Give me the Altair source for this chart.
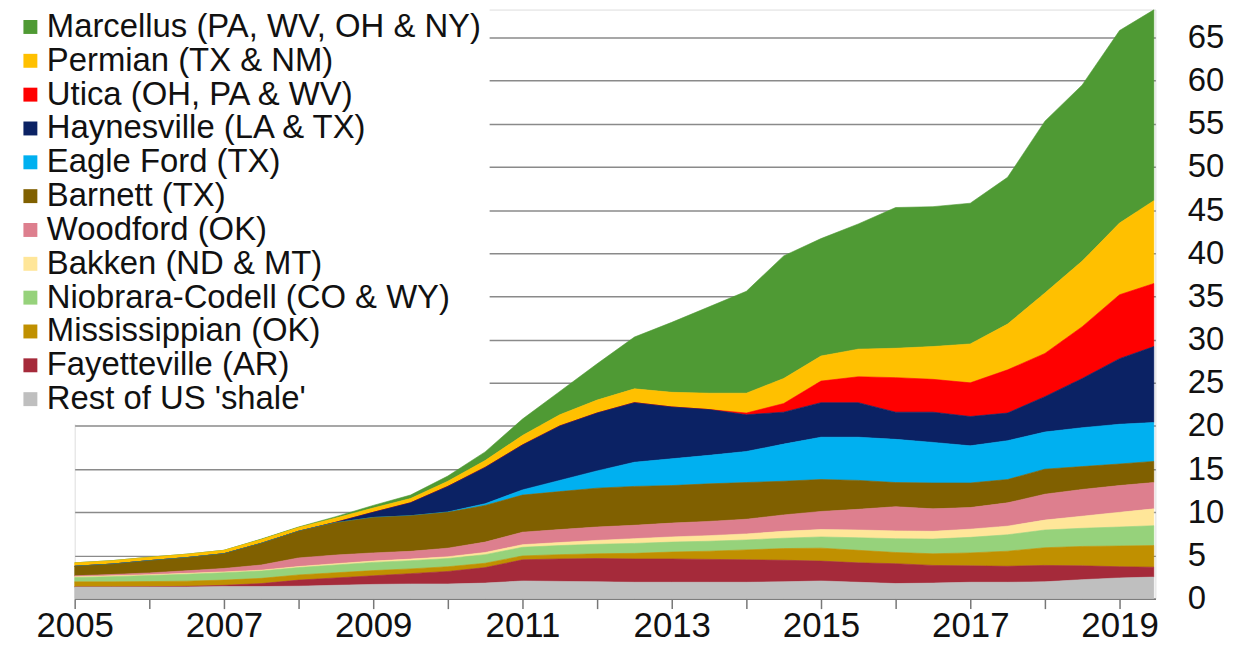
import altair as alt
import pandas as pd

# half-year sample points (decimal years), last point ~June 2019
years = [2005.0, 2005.5, 2006.0, 2006.5, 2007.0, 2007.5, 2008.0, 2008.5, 2009.0, 2009.5,
         2010.0, 2010.5, 2011.0, 2011.5, 2012.0, 2012.5, 2013.0, 2013.5, 2014.0, 2014.5,
         2015.0, 2015.5, 2016.0, 2016.5, 2017.0, 2017.5, 2018.0, 2018.5, 2019.0, 2019.46]

regions = ["Marcellus (PA, WV, OH & NY)", "Permian (TX & NM)", "Utica (OH, PA & WV)",
           "Haynesville (LA & TX)", "Eagle Ford (TX)", "Barnett (TX)", "Woodford (OK)",
           "Bakken (ND & MT)", "Niobrara-Codell (CO & WY)", "Mississippian (OK)",
           "Fayetteville (AR)", "Rest of US 'shale'"]

colors = ["#4F9A34", "#FFC000", "#FF0000", "#0B2264", "#00B0F0", "#806000", "#DD7F8E",
          "#FFE699", "#96D27B", "#C09000", "#A52A3A", "#BFBFBF"]

marcellus = [0, 0, 0, 0, 0, 0.05, 0.05, 0.15, 0.3, 0.4, 0.6, 1.0, 1.9, 2.7, 4.2, 6.0, 8.1, 10.0,
             11.8, 14.2, 13.6, 14.5, 16.3, 16.2, 16.3, 17.0, 19.9, 20.4, 22.3, 22.1]
permian = [0.4, 0.4, 0.4, 0.4, 0.4, 0.45, 0.45, 0.5, 0.5, 0.5, 0.6, 0.8, 1.1, 1.3, 1.5, 1.6, 1.7, 1.9,
           2.3, 2.9, 2.9, 3.2, 3.4, 3.8, 4.5, 5.3, 7.0, 7.6, 8.3, 9.6]
utica = [0, 0, 0, 0, 0, 0, 0, 0, 0, 0, 0, 0, 0, 0, 0, 0, 0, 0,
         0.2, 1.0, 2.5, 3.0, 4.0, 3.8, 3.9, 5.0, 5.0, 6.0, 7.4, 7.3]
haynesville = [0, 0, 0, 0, 0, 0, 0, 0.05, 0.6, 1.5, 2.95, 4.2, 5.2, 6.3, 6.7, 6.9, 6.0, 5.3,
               4.25, 3.7, 4.0, 4.0, 3.15, 3.5, 3.4, 3.2, 4.1, 5.7, 7.6, 8.8]
eagle_ford = [0, 0, 0, 0, 0, 0, 0, 0, 0, 0, 0.05, 0.2, 0.6, 1.3, 2.0, 2.8, 3.1, 3.3,
              3.6, 4.3, 4.9, 5.0, 5.0, 4.7, 4.3, 4.5, 4.3, 4.5, 4.6, 4.5]
barnett = [1.1, 1.2, 1.42, 1.52, 1.7, 2.5, 3.08, 3.75, 4.1, 4.12, 4.15, 4.25, 4.3, 4.4, 4.5, 4.5, 4.35, 4.35,
           4.25, 3.9, 3.7, 3.35, 2.8, 3.0, 2.85, 2.7, 2.9, 2.65, 2.5, 2.45]
woodford = [0.1, 0.15, 0.2, 0.3, 0.4, 0.6, 1.0, 1.0, 0.95, 0.9, 1.0, 1.2, 1.45, 1.5, 1.55, 1.55, 1.6, 1.65,
            1.7, 1.9, 2.1, 2.4, 2.8, 2.6, 2.5, 2.7, 3.0, 3.1, 3.1, 3.05]
bakken = [0.1, 0.1, 0.1, 0.1, 0.1, 0.1, 0.12, 0.15, 0.15, 0.18, 0.2, 0.25, 0.3, 0.35, 0.45, 0.55, 0.6, 0.65,
          0.7, 0.8, 0.85, 0.9, 0.9, 0.9, 0.95, 1.0, 1.15, 1.4, 1.7, 1.95]
niobrara = [0.5, 0.6, 0.7, 0.8, 0.85, 0.85, 0.85, 0.9, 0.95, 0.95, 0.95, 1.0, 1.0, 1.05, 1.1, 1.15, 1.15, 1.15,
            1.15, 1.2, 1.3, 1.45, 1.6, 1.7, 1.8, 1.9, 2.05, 2.1, 2.2, 2.3]
mississippian = [0.6, 0.6, 0.6, 0.6, 0.6, 0.6, 0.6, 0.6, 0.6, 0.55, 0.55, 0.5, 0.45, 0.5, 0.55, 0.65, 0.8, 0.95,
                 1.15, 1.35, 1.5, 1.45, 1.3, 1.35, 1.5, 1.75, 2.05, 2.25, 2.4, 2.5]
fayetteville = [0.0, 0.0, 0.03, 0.08, 0.15, 0.35, 0.7, 0.85, 1.0, 1.2, 1.45, 1.8, 2.45, 2.6, 2.7, 2.7, 2.7, 2.65,
                2.6, 2.5, 2.3, 2.25, 2.3, 2.05, 1.9, 1.85, 1.9, 1.6, 1.3, 1.15]
rest_of_us = [1.35, 1.35, 1.35, 1.35, 1.4, 1.4, 1.45, 1.55, 1.65, 1.7, 1.7, 1.8, 2.05, 2.0, 1.95, 1.9, 1.9, 1.9,
              1.9, 1.95, 2.05, 1.9, 1.75, 1.8, 1.9, 1.9, 1.95, 2.2, 2.4, 2.5]

series_values = [marcellus, permian, utica, haynesville, eagle_ford, barnett, woodford,
                 bakken, niobrara, mississippian, fayetteville, rest_of_us]

rows = []
n = len(regions)
for i, (name, vals) in enumerate(zip(regions, series_values)):
    for t, v in zip(years, vals):
        rows.append({"t": t, "region": name, "value": v, "stack_order": n - 1 - i})
df = pd.DataFrame(rows)

FONT = "Liberation Sans"

chart = alt.Chart(df).mark_area(interpolate="linear", strokeWidth=0.6, opacity=1).encode(
    x=alt.X("t:Q",
            scale=alt.Scale(domain=[2005, 2019.48], nice=False, zero=False),
            axis=alt.Axis(values=list(range(2005, 2020)),
                          labelExpr="datum.value % 2 == 1 ? datum.value : ''",
                          title=None, grid=False, tickSize=10, tickColor="#777777",
                          tickWidth=1.5, domainColor="#777777", domainWidth=1.5,
                          labelFontSize=35, labelPadding=28, labelBaseline="alphabetic",
                          labelFlush=False, labelOverlap=False, labelColor="#111111",
                          labelFont=FONT)),
    y=alt.Y("value:Q", stack="zero",
            scale=alt.Scale(domain=[0, 68.23], nice=False),
            axis=alt.Axis(orient="right", values=list(range(0, 70, 5)), title=None,
                          grid=True, gridColor="#8a8a8a", gridWidth=1.5, domain=False,
                          ticks=False, labelAlign="left", labelPadding=32,
                          labelFontSize=33, labelBaseline="middle",
                          labelColor="#111111", labelFont=FONT)),
    color=alt.Color("region:N",
                    scale=alt.Scale(domain=regions, range=colors),
                    sort=regions,
                    legend=alt.Legend(title=None, orient="none", legendX=-69, legendY=-7,
                                      symbolType="square", symbolSize=196,
                                      symbolStrokeWidth=0, labelFontSize=33,
                                      labelFont=FONT, labelColor="#111111",
                                      rowPadding=-0.8, padding=8, fillColor="white",
                                      labelOffset=0, labelLimit=800)),
    stroke=alt.Stroke("region:N", scale=alt.Scale(domain=regions, range=colors), legend=None),
    order=alt.Order("stack_order:Q", sort="ascending"),
).properties(
    width=1086,
    height=592,
    autosize=alt.AutoSizeParams(type="none"),
    padding={"left": 67, "top": 0, "right": 74, "bottom": 46},
).configure_view(stroke=None).configure(font=FONT)

chart.save("out.html", embed_options={"renderer": "svg", "actions": False})
